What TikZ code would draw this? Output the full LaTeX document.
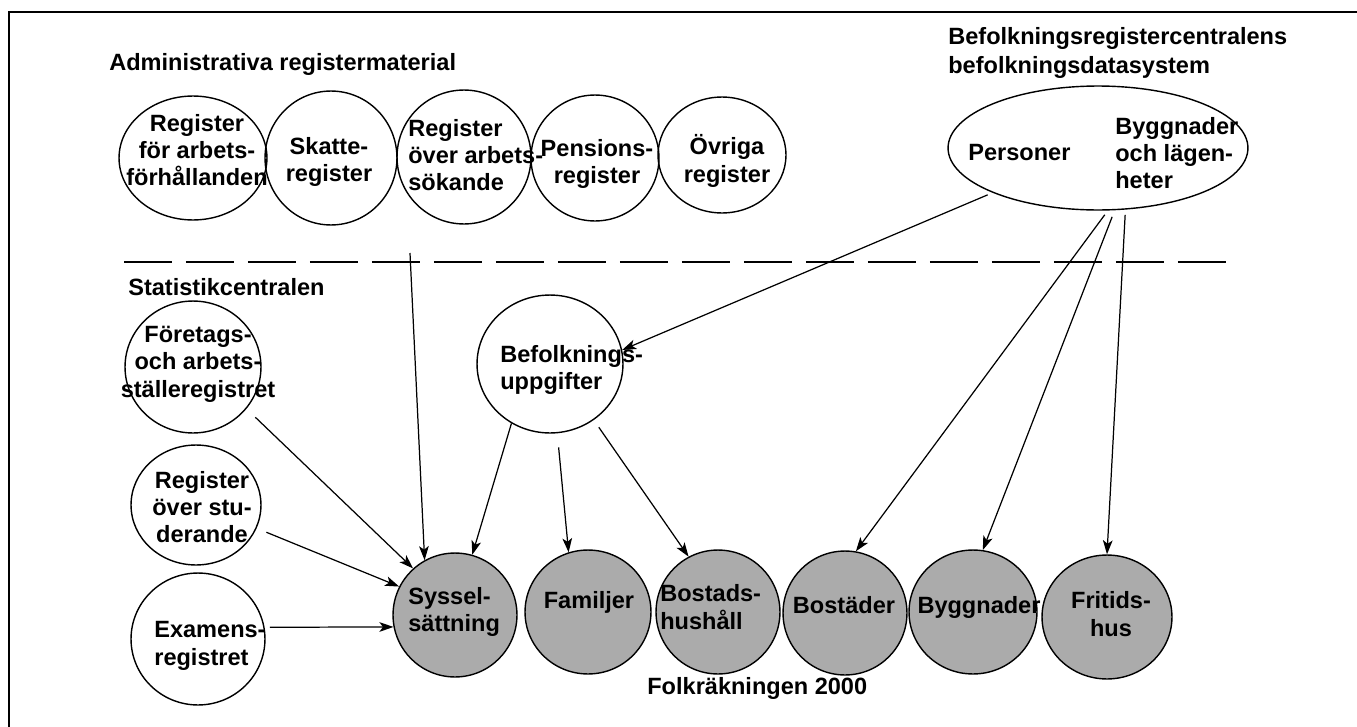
\documentclass[tikz,border=0pt]{standalone}
\usepackage{fontspec}
\setmainfont{Liberation Sans}
\usetikzlibrary{arrows.meta,shapes.geometric}
\begin{document}
\begin{tikzpicture}[x=0.02cm,y=-0.02cm,
  every node/.style={font=\fontsize{13.4}{15.6}\selectfont\bfseries, inner sep=0pt},
  sz/.style 2 args={minimum width=#1*0.04cm, minimum height=#2*0.04cm},
  reg/.style={ellipse, draw, line width=0.8pt},
  res/.style={reg, fill=black!33},
  lbl/.style={align=center},
  lbll/.style={align=left, anchor=west},
  arr/.style={-{Stealth[length=8pt,width=5.5pt,inset=2pt]}, line width=0.7pt}]
\useasboundingbox (0,0) rectangle (1357,727);
\draw[line width=1.2pt] (9,727) -- (9,12) -- (1357,12);
\draw[line width=0.7pt, dash pattern=on 0.96cm off 0.28cm] (124,262) -- (1230,262);

% titles
\node[lbll] (t1) at (109,64) {Administrativa registermaterial};
\node[lbll] (t2) at (128,287) {Statistikcentralen};
\node[lbll, font=\fontsize{13.4}{17}\selectfont\bfseries] (t3) at (948,53) {Befolkningsregistercentralens\\befolkningsdatasystem};
\node[lbll] (t4) at (647,688) {Folkräkningen 2000};

% top row registers
\node[reg, sz={74}{62}] (r1) at (193,158) {};
\node[reg, sz={66}{67}] (r2) at (331,158) {};
\node[reg, sz={67}{67}] (r3) at (464,157) {};
\node[reg, sz={64}{63}] (r4) at (595,158) {};
\node[reg, sz={64}{58}] (r5) at (722,155) {};
\node[lbl] (r1t) at (197,150) {Register\\för arbets-\\förhållanden};
\node[lbl] (r2t) at (329,162) {Skatte-\\register};
\node[lbll] (r3t) at (408,155) {Register\\över arbets-\\sökande};
\node[lbl] (r4t) at (597,164) {Pensions-\\register};
\node[lbl] (r5t) at (727,161) {Övriga\\register};

% population data system
\node[reg, sz={150}{62}] (pb) at (1098,148) {};
\node[lbll] (pbt1) at (968,153) {Personer};
\node[lbll] (pbt2) at (1115,153) {Byggnader\\och lägen-\\heter};

% Statistikcentralen registers
\node[reg, sz={68}{66}] (fore) at (193,367) {};
\node[reg, sz={65}{60}] (stud) at (196,505) {};
\node[reg, sz={67}{66}] (exa) at (198,639) {};
\node[reg, sz={73}{69}] (befu) at (550,364) {};
\node[lbl] (foret) at (198,364) {Företags-\\och arbets-\\ställeregistret};
\node[lbl] (studt) at (202,507) {Register\\över stu-\\derande};
\node[lbll] (exat) at (154,646) {Examens-\\registret};
\node[lbll] (befut) at (500,370) {Befolknings-\\uppgifter};

% census results
\node[res, sz={62}{62}] (syss) at (455,615) {};
\node[res, sz={63}{62}] (fam) at (588,612) {};
\node[res, sz={62}{62}] (bhh) at (718,612) {};
\node[res, sz={62}{62}] (bost) at (845,613) {};
\node[res, sz={64}{62}] (bygg) at (973,612) {};
\node[res, sz={65}{62}] (frit) at (1107,617) {};
\node[lbll] (sysst) at (408,612) {Syssel-\\sättning};
\node[lbl] (famt) at (589,602) {Familjer};
\node[lbll] (bhht) at (660,607) {Bostads-\\hushåll};
\node[lbl] (bostt) at (844,605) {Bostäder};
\node[lbl] (byggt) at (979,607) {Byggnader};
\node[lbl] (fritt) at (1111,614) {Fritids-\\hus};

% connectors
\coordinate (vtop) at (410,253);
\draw[arr] (vtop) -- (syss.119);
\draw[arr, shorten <=7pt] (fore.-38) -- (syss.132);
\draw[arr, shorten <=6pt] (stud.-21) -- (syss.153);
\draw[arr, shorten <=3pt] (exa.10) -- (syss.191);
\draw[arr] (befu.-123) -- (syss.74);
\draw[arr, shorten <=8pt] (befu.-84) -- (fam.108);
\draw[arr, shorten <=5pt] (befu.-52) -- (bhh.118);
\draw[arr, shorten <=3pt] (pb) -- (befu.11);
\draw[arr, shorten <=3pt] (pb.-81) -- (bost.80);
\draw[arr, shorten <=4pt] (pb.-75) -- (bygg.81);
\draw[arr, shorten <=3pt] (pb.-66) -- (frit.north);
\end{tikzpicture}
\end{document}
